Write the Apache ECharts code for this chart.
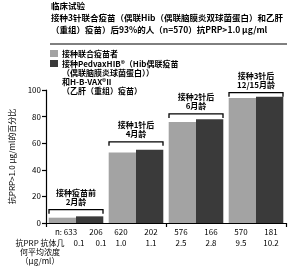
<!DOCTYPE html>
<html><head><meta charset="utf-8">
<script src="https://cdn.jsdelivr.net/npm/echarts@6/dist/echarts.min.js"></script>
<style>html,body{margin:0;padding:0;background:#fff}#c{width:292px;height:273px}</style>
</head><body><div id="c"></div>
<script>
const groupLine1 = ['接种疫苗前', '接种1针后', '接种2针后', '接种3针后'];
const groupLine2 = ['2月龄', '4月龄', '6月龄', '12/15月龄'];
const combinedPct = [4, 53, 76, 94];
const separatePct = [5, 55, 78, 95];
const bracketLevel = [10, 61, 82, 98];
const nCombined = [633, 620, 576, 570];
const nSeparate = [206, 202, 166, 181];
const gmcCombined = ['0.1', '1.0', '2.5', '9.5'];
const gmcSeparate = ['0.1', '1.1', '2.8', '10.2'];
const yTicks = [0, 20, 40, 60, 80, 100];
const seriesNames = ['接种联合疫苗者', '接种PedvaxHIB®（Hib偶联疫苗（偶联脑膜炎球菌蛋白））和H-B-VAX®II（乙肝（重组）疫苗）'];
const legendLines2 = ['接种PedvaxHIB®（Hib偶联疫苗', '（偶联脑膜炎球菌蛋白））', '和H-B-VAX®II', '（乙肝（重组）疫苗）'];
const titleLines = ['临床试验', '接种3针联合疫苗（偶联Hib（偶联脑膜炎双球菌蛋白）和乙肝', '（重组）疫苗）后93%的人（n=570）抗PRP>1.0 μg/ml'];
const yName = '抗PRP>1.0 μg/ml的百分比';
const gmcTitle = ['抗PRP 抗体几', '何平均浓度', '（μg/ml）'];

const F = '"Noto Sans CJK SC", "Noto Sans", sans-serif';
const LIGHT = '#a3a3a3', DARK = '#3a3a3a';

const nLabels = [], gmcLabels = [];
for (let i = 0; i < 4; i++) {
  nLabels.push((i === 0 ? 'n: ' : '') + nCombined[i], String(nSeparate[i]));
  gmcLabels.push(gmcCombined[i], gmcSeparate[i]);
}
const catIdx = [0, 1, 2, 3];
const bracketData = catIdx.map(i => [i, bracketLevel[i], groupLine1[i], groupLine2[i]]);

const chart = echarts.init(document.getElementById('c'), null, {renderer: 'canvas'});
const txt = (text, x, y, opts) => Object.assign({type: 'text', x: x, y: y, style: Object.assign({text: text, fill: '#000', font: '8px ' + F, textVerticalAlign: 'middle'}, opts || {})});
const labelStyle = {color: '#000', fontSize: 8, fontFamily: F};
const shifted = (v, i) => i === 0 ? '{a|' + v + '}' : (i === 1 ? '{b|' + v + '}' : v);

chart.setOption({
  animation: false,
  backgroundColor: '#fff',
  grid: {left: 42, right: 6, top: 90, height: 133},
  xAxis: [
    {type: 'category', data: groupLine1, position: 'bottom',
     axisLine: {lineStyle: {color: '#000', width: 1.2}},
     axisTick: {show: true, length: 4, lineStyle: {color: '#000', width: 1.2}},
     axisLabel: {show: false}},
    {type: 'category', data: nLabels, position: 'bottom', gridIndex: 0,
     axisLine: {show: false}, axisTick: {show: false},
     axisLabel: Object.assign({margin: 5, interval: 0, formatter: shifted,
       rich: {a: Object.assign({padding: [0, 0, 0, 10]}, labelStyle), b: Object.assign({padding: [0, 0, 0, 10]}, labelStyle)}}, labelStyle)},
    {type: 'category', data: gmcLabels, position: 'bottom', gridIndex: 0, offset: 11,
     axisLine: {show: false}, axisTick: {show: false},
     axisLabel: Object.assign({margin: 5, interval: 0, formatter: shifted,
       rich: {a: Object.assign({padding: [0, 0, 0, 36]}, labelStyle), b: Object.assign({padding: [0, 0, 0, 20]}, labelStyle)}}, labelStyle)}
  ],
  yAxis: {type: 'value', min: yTicks[0], max: yTicks[yTicks.length - 1], interval: 20,
    name: yName, nameLocation: 'middle', nameGap: 30,
    nameTextStyle: {color: '#000', fontSize: 8, fontFamily: F},
    axisLine: {show: true, lineStyle: {color: '#000', width: 1.2}},
    axisTick: {show: true, length: 4, lineStyle: {color: '#000', width: 1.2}},
    axisLabel: {color: '#000', fontSize: 8, fontFamily: F, margin: 5},
    splitLine: {show: false}},
  series: [
    {name: seriesNames[0], type: 'bar', data: combinedPct, barGap: '0%', barCategoryGap: '9%',
     itemStyle: {color: LIGHT}},
    {name: seriesNames[1], type: 'bar', data: separatePct, barGap: '0%', barCategoryGap: '9%',
     itemStyle: {color: DARK}},
    {type: 'custom', data: bracketData, encode: {x: 0, y: 1}, z: 5,
     renderItem: function (params, api) {
       const p = api.coord([api.value(0), api.value(1)]);
       const w = api.size([1, 0])[0] * 0.9;
       const x0 = p[0] - w / 2, x1 = p[0] + w / 2, y = p[1];
       return {type: 'group', children: [
         {type: 'polyline', shape: {points: [[x0, y + 4], [x0, y], [x1, y], [x1, y + 4]]},
          style: {stroke: '#000', lineWidth: 1.3, fill: null}},
         {type: 'text', style: {text: api.value(2), x: p[0], y: y - 17, textAlign: 'center', textVerticalAlign: 'middle', fill: '#000', font: 'bold 8px ' + F}},
         {type: 'text', style: {text: api.value(3), x: p[0], y: y - 8, textAlign: 'center', textVerticalAlign: 'middle', fill: '#000', font: 'bold 8px ' + F}}
       ]};
     }}
  ],
  graphic: [
    txt(titleLines[0], 51, 6, {font: 'bold 8.5px ' + F}),
    txt(titleLines[1], 51, 18, {font: 'bold 8.5px ' + F}),
    txt(titleLines[2], 51, 30, {font: 'bold 8.5px ' + F}),
    {type: 'line', shape: {x1: 50, y1: 44, x2: 287, y2: 44}, style: {stroke: '#000', lineWidth: 1}},
    {type: 'rect', shape: {x: 50, y: 50, width: 8, height: 7}, style: {fill: LIGHT}},
    txt(seriesNames[0], 62, 54, {font: 'bold 8px ' + F}),
    {type: 'rect', shape: {x: 50, y: 60, width: 8, height: 7}, style: {fill: DARK}},
    txt(legendLines2[0], 62, 64, {font: 'bold 8px ' + F}),
    txt(legendLines2[1], 62, 73, {font: 'bold 8px ' + F}),
    txt(legendLines2[2], 62, 82, {font: 'bold 8px ' + F}),
    txt(legendLines2[3], 62, 91, {font: 'bold 8px ' + F}),
    txt(gmcTitle[0], 40, 243, {textAlign: 'center'}),
    txt(gmcTitle[1], 40, 252, {textAlign: 'center'}),
    txt(gmcTitle[2], 40, 261, {textAlign: 'center'})
  ]
});
</script></body></html>
